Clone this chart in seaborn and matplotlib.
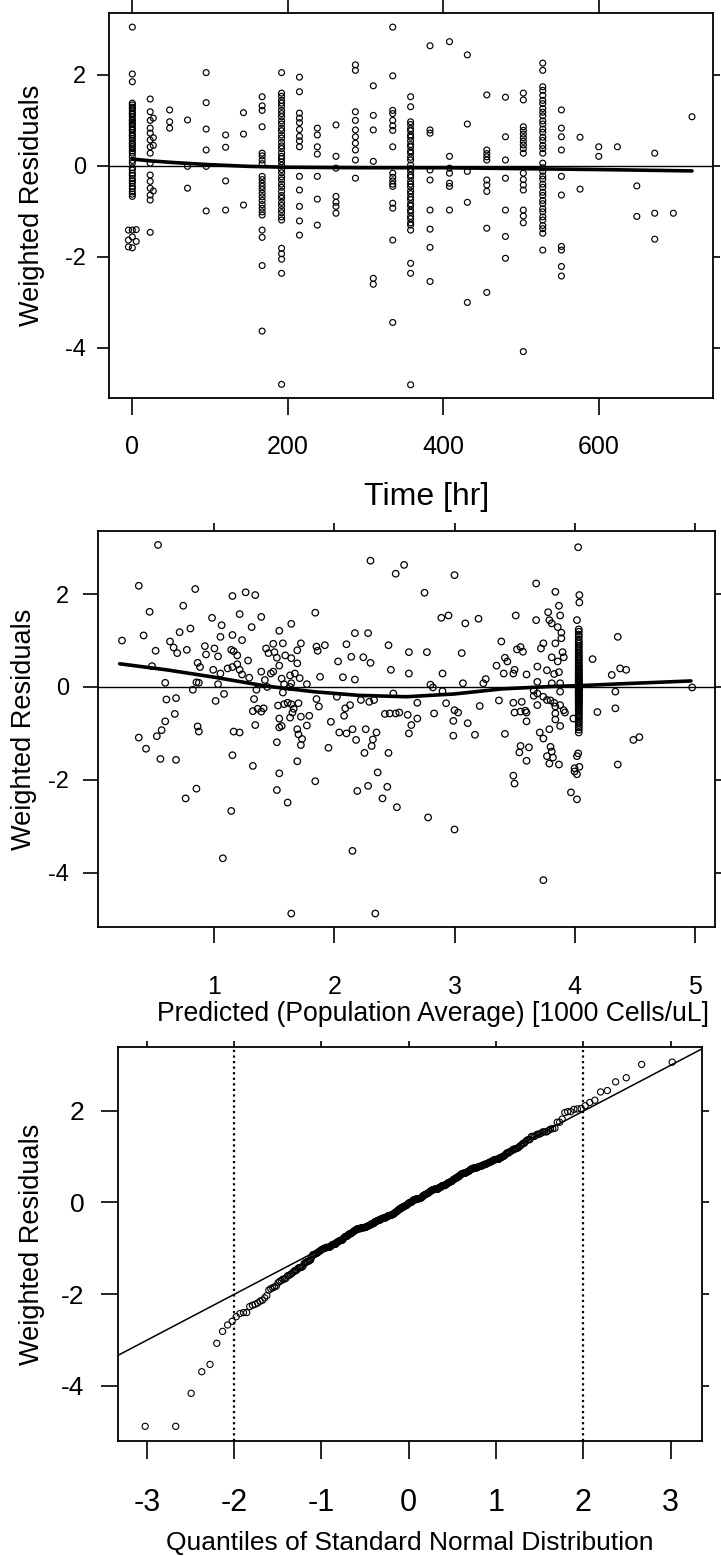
import matplotlib
matplotlib.use("Agg")
import matplotlib.pyplot as plt
import seaborn as sns
import pandas as pd
import numpy as np
from statistics import NormalDist

# ---------------- Panel 1: weighted residuals vs time ----------------
time_cols = [0, -5, 5, 23, 27, 48, 71, 95, 120, 143, 167, 192, 215, 238, 262,
             287, 310, 335, 358, 383, 408, 431, 456, 480, 503, 528, 552, 576,
             600, 624, 649, 672, 696, 720]
wres_cols = [
    [3.05, 2.02, 1.85, 1.38, 1.34, 1.29, 1.26, 1.21, 1.16, 1.13, 1.08, 1.02, 0.99, 0.94,
     0.91, 0.86, 0.81, 0.78, 0.73, 0.68, 0.65, 0.60, 0.56, 0.50, 0.47, 0.42, 0.38, 0.33,
     0.28, 0.21, 0.12, 0.06, -0.04, -0.09, -0.16, -0.21, -0.28, -0.33, -0.38, -0.45,
     -0.50, -0.57, -0.62, -0.67, -1.41, -1.56, -1.80],
    [-1.41, -1.63, -1.78],
    [-1.40, -1.66],
    [1.47, 1.19, 1.00, 0.83, 0.72, 0.57, 0.42, 0.28, 0.06, -0.20, -0.34, -0.49, -0.64, -0.75, -1.46],
    [1.05, 0.62, 0.45, -0.55],
    [1.23, 0.97, 0.83],
    [1.01, -0.01, -0.49],
    [2.05, 1.39, 0.81, 0.35, -0.01, -0.99],
    [0.68, 0.41, -0.33, -0.97],
    [1.17, 0.70, -0.86],
    [1.52, 1.32, 1.22, 0.86, 0.28, 0.22, 0.13, 0.05, -0.23, -0.30, -0.38, -0.45, -0.52,
     -0.60, -0.68, -0.76, -0.85, -0.93, -1.01, -1.08, -1.41, -1.57, -2.19, -3.63],
    [2.05, 1.60, 1.53, 1.44, 1.38, 1.31, 1.22, 1.15, 1.08, 0.99, 0.92, 0.83, 0.77, 0.68,
     0.61, 0.52, 0.44, 0.38, 0.29, 0.21, 0.16, 0.09, 0.01, -0.08, -0.15, -0.24, -0.31,
     -0.40, -0.47, -0.56, -0.65, -0.71, -0.80, -0.87, -0.96, -1.03, -1.12, -1.19, -1.81,
     -1.93, -2.05, -2.36, -4.80],
    [1.95, 1.63, 1.16, 1.05, 0.95, 0.80, 0.65, 0.55, 0.42, -0.23, -0.53, -0.89, -1.21, -1.52],
    [0.83, 0.68, 0.42, 0.26, -0.23, -0.73, -1.30],
    [0.90, 0.21, -0.05, -0.67, -0.80, -0.89, -1.04],
    [2.22, 2.10, 1.19, 1.00, 0.79, 0.64, 0.50, 0.35, 0.13, -0.27],
    [1.76, 1.11, 0.79, 0.10, -2.47, -2.60],
    [3.05, 1.98, 1.22, 1.15, 1.00, 0.88, 0.78, 0.42, -0.16, -0.25, -0.33, -0.40, -0.45,
     -0.82, -0.93, -1.63, -3.44],
    [1.52, 1.30, 0.97, 0.91, 0.82, 0.77, 0.68, 0.63, 0.55, 0.47, 0.42, 0.33, 0.28, 0.19,
     0.13, 0.02, -0.06, -0.12, -0.20, -0.25, -0.34, -0.40, -0.46, -0.55, -0.61, -0.69,
     -0.74, -0.83, -0.88, -0.97, -1.02, -1.11, -1.16, -1.25, -1.30, -1.41, -2.14, -2.36, -4.81],
    [2.64, 0.79, 0.72, -0.09, -0.31, -0.97, -1.39, -1.79, -2.54],
    [2.73, 0.21, -0.05, -0.16, -0.38, -0.45, -0.97],
    [2.44, 0.92, -0.12, -0.80, -3.00],
    [1.56, 0.35, 0.27, 0.20, 0.13, -0.31, -0.42, -0.56, -1.37, -2.78],
    [1.51, 0.64, 0.13, -0.27, -0.97, -1.55, -2.03],
    [1.60, 1.45, 0.86, 0.78, 0.70, 0.62, 0.54, 0.46, 0.38, 0.28, -0.16, -0.30, -0.42,
     -0.53, -0.97, -1.10, -1.25, -4.08],
    [2.26, 2.10, 1.74, 1.66, 1.55, 1.44, 1.37, 1.26, 1.18, 1.10, 0.99, 0.92, 0.81, 0.74,
     0.63, 0.56, 0.45, 0.38, 0.28, 0.06, -0.04, -0.12, -0.22, -0.29, -0.40, -0.47, -0.58,
     -0.65, -0.76, -0.83, -0.94, -1.01, -1.12, -1.19, -1.31, -1.38, -1.48, -1.85],
    [1.23, 0.83, 0.64, 0.35, -0.23, -0.64, -1.77, -1.85, -2.21, -2.42],
    [0.63, -0.51],
    [0.42, 0.21],
    [0.42],
    [-0.44, -1.11],
    [0.28, -1.04, -1.61],
    [-1.04],
    [1.08],
]
smooth_time_x = [0, 24, 48, 96, 150, 200, 300, 400, 500, 600, 720]
smooth_time_y = [0.15, 0.11, 0.08, 0.03, -0.01, -0.03, -0.04, -0.04, -0.06, -0.08, -0.11]

# ---------------- Panel 2: weighted residuals vs population prediction ----------------
pred_pop = [
    0.53, 0.37, 0.46, 0.84, 0.74, 1.15, 1.26, 1.34, 0.98, 1.06,
    1.21, 1.31, 1.39, 1.64, 1.54, 1.84, 2.30, 2.51, 2.58, 2.17,
    2.28, 0.23, 0.41, 0.51, 0.63, 0.66, 0.69, 0.71, 0.80, 0.77,
    0.92, 0.93, 1.00, 1.03, 1.05, 1.15, 1.14, 1.16, 1.19, 1.23,
    1.28, 0.86, 0.88, 0.99, 1.05, 1.11, 1.15, 1.19, 1.21, 1.23,
    1.29, 0.48, 0.59, 0.85, 0.87, 1.03, 1.39, 1.43, 1.49, 1.45,
    1.50, 1.52, 1.57, 1.59, 1.64, 1.69, 1.72, 1.69, 1.54, 1.47,
    1.49, 1.42, 1.56, 1.63, 1.67, 1.71, 1.64, 1.77, 1.85, 1.86,
    1.92, 1.88, 2.07, 2.10, 2.14, 2.17, 2.24, 2.30, 2.03, 2.45,
    2.47, 2.62, 2.62, 0.60, 0.68, 0.82, 1.01, 1.08, 0.67, 0.59,
    0.56, 0.52, 0.37, 0.43, 0.55, 0.68, 0.86, 0.87, 1.16, 1.21,
    1.15, 1.32, 1.14, 0.76, 0.85, 1.07, 1.64, 2.34, 1.33, 1.32,
    1.36, 1.41, 1.34, 1.39, 1.35, 1.53, 1.57, 1.58, 1.61, 1.64,
    1.70, 1.65, 1.63, 1.54, 1.56, 1.54, 1.66, 1.72, 1.69, 1.70,
    1.73, 1.72, 1.79, 1.77, 1.52, 1.54, 1.52, 1.61, 1.69, 1.84,
    1.95, 1.97, 1.85, 1.87, 2.02, 2.04, 2.09, 2.08, 2.10, 2.13,
    2.15, 2.18, 2.22, 2.26, 2.29, 2.33, 2.32, 2.31, 2.35, 2.25,
    2.36, 2.28, 2.19, 2.44, 2.40, 2.52, 2.45, 2.15, 2.42, 2.46,
    2.51, 2.49, 2.61, 2.62, 1.44, 1.63, 1.58, 2.75, 3.00, 2.89,
    2.95, 3.09, 3.20, 2.77, 3.06, 2.90, 2.80, 2.82, 2.90, 3.07,
    3.24, 3.26, 2.69, 2.54, 2.69, 2.64, 2.83, 2.93, 3.00, 3.03,
    2.99, 2.99, 3.11, 3.17, 3.21, 3.42, 3.37, 2.78, 3.00, 3.74,
    3.39, 3.35, 3.42, 3.44, 3.41, 3.49, 3.50, 3.51, 3.52, 3.55,
    3.57, 3.60, 3.68, 3.68, 3.69, 3.72, 3.74, 3.78, 3.79, 3.81,
    3.84, 3.87, 3.88, 3.86, 3.89, 3.89, 3.84, 3.90, 3.91, 3.86,
    3.81, 3.77, 3.87, 3.83, 3.69, 3.81, 3.88, 3.66, 3.69, 3.66,
    3.74, 3.77, 3.80, 3.83, 3.88, 3.88, 3.84, 3.91, 3.92, 3.84,
    3.84, 3.88, 3.79, 3.71, 3.74, 3.69, 3.59, 3.60, 3.55, 3.50,
    3.49, 3.56, 3.60, 3.62, 3.55, 3.54, 3.60, 3.80, 3.81, 3.82,
    3.77, 3.79, 3.87, 3.49, 3.50, 3.97, 4.02, 4.03, 4.04, 4.04,
    4.02, 4.15, 4.36, 4.31, 4.38, 4.43, 4.34, 4.19, 4.34, 4.49,
    4.54, 4.36, 4.98, 3.99, 4.00, 4.00, 4.02, 4.02, 4.03, 4.04,
]
wres_pop = [
    3.06, 2.18, 1.62, 2.11, 1.75, 1.96, 2.04, 1.98, 1.49, 1.33,
    1.57, 1.29, 1.51, 1.36, 1.21, 1.60, 2.72, 2.44, 2.63, 1.16,
    1.16, 1.00, 1.11, 0.78, 0.98, 0.85, 0.73, 1.18, 1.26, 0.80,
    0.88, 0.70, 0.83, 0.66, 1.08, 1.12, 0.80, 0.77, 0.68, 1.01,
    0.57, 0.52, 0.43, 0.37, 0.29, 0.40, 0.43, 0.49, 0.37, 0.27,
    0.20, 0.45, 0.09, 0.10, 0.09, 0.06, 0.33, 0.83, 0.93, 0.73,
    0.75, 0.63, 0.94, 0.68, 0.62, 0.79, 0.94, 0.51, 0.46, 0.29,
    0.33, 0.15, 0.18, 0.25, 0.29, 0.19, 0.08, 0.06, 0.87, 0.78,
    0.90, 0.22, 0.21, 0.92, 0.65, 0.16, 0.64, 0.52, 0.55, 0.90,
    0.37, 0.75, 0.29, -0.27, -0.24, -0.06, -0.30, -0.15, -0.58, -0.74,
    -0.93, -1.06, -1.09, -1.33, -1.55, -1.57, -0.85, -0.96, -0.96, -0.98,
    -1.47, -1.70, -2.67, -2.40, -2.19, -3.69, -4.88, -4.88, -0.26, -0.52,
    -0.47, -0.46, -0.82, -0.53, -0.06, -0.40, -0.12, -0.37, -0.34, -0.37,
    -0.35, -0.55, -0.66, -0.68, -0.84, -0.87, -0.47, -0.64, -0.91, -1.02,
    -1.12, -1.25, -0.62, -0.83, -1.19, -1.86, -2.22, -2.49, -1.60, -2.03,
    -1.31, -0.75, -0.26, -0.42, -0.21, -0.98, -0.46, -0.62, -1.00, -0.39,
    -0.91, -1.14, -0.28, -0.91, -0.32, -0.28, -1.13, -1.27, -0.98, -1.42,
    -1.84, -2.13, -2.24, -2.15, -2.40, -2.59, -1.42, -3.53, -0.58, -0.57,
    -0.57, -0.14, -0.60, -1.00, 0.00, 0.00, 0.06, 2.03, 2.41, 1.49,
    1.54, 1.37, 1.47, 0.75, 0.73, 0.29, 0.05, -0.01, -0.09, 0.08,
    0.08, 0.17, -0.34, -0.55, -0.68, -0.82, -0.57, -0.35, -0.50, -0.55,
    -0.73, -1.05, -0.78, -1.03, -0.41, -1.01, -0.29, -2.81, -3.07, -4.16,
    0.98, 0.46, 0.63, 0.55, 0.29, 0.29, 0.37, 1.54, 0.81, 0.86,
    0.76, 0.27, 2.23, 1.44, 0.44, 0.83, 0.94, 1.61, 1.44, 1.37,
    2.05, 1.75, 1.54, 1.29, 1.17, 1.05, 0.94, 0.75, 0.64, 0.55,
    0.64, 0.36, 0.32, 0.28, 0.11, 0.08, 0.08, -0.08, -0.14, -0.19,
    -0.21, -0.28, -0.29, -0.34, -0.10, -0.39, -0.42, -0.50, -0.55, -0.57,
    -0.70, -0.84, -0.91, -0.98, -1.11, -0.39, -0.51, -0.74, -0.53, -0.55,
    -0.34, -0.32, -0.55, -1.30, -1.27, -1.41, -1.59, -1.29, -1.39, -1.52,
    -1.49, -1.65, -1.67, -1.91, -2.08, -2.27, -2.42, 3.01, 1.98, 1.82,
    1.44, 0.60, 1.08, 0.26, 0.40, 0.37, -0.10, -0.54, -0.46, -1.14,
    -1.08, -1.67, -0.01, -0.68, -1.82, -1.75, -1.88, -1.49, -1.43, -1.72,
]
# dense column of baseline observations (all share the same population prediction)
base_pred = 4.035
base_wres = [1.24, 1.19, 1.13, 1.08, 1.02, 0.97, 0.93, 0.88, 0.84, 0.79, 0.75, 0.71,
             0.67, 0.64, 0.60, 0.57, 0.53, 0.50, 0.47, 0.44, 0.41, 0.38, 0.35, 0.33,
             0.30, 0.28, 0.25, 0.23, 0.20, 0.18, 0.16, 0.14, 0.12, 0.10, 0.08, 0.06,
             0.04, 0.03, 0.01, 0.00, -0.02, -0.03, -0.05, -0.07, -0.08, -0.10, -0.12,
             -0.14, -0.16, -0.18, -0.20, -0.22, -0.24, -0.27, -0.29, -0.31, -0.34,
             -0.36, -0.39, -0.42, -0.45, -0.48, -0.51, -0.54, -0.58, -0.61, -0.65,
             -0.69, -0.73, -0.77, -0.82, -0.87, -0.92, -0.98]
smooth_pred_x = [0.21, 0.60, 1.00, 1.43, 1.82, 2.20, 2.60, 3.00, 3.40, 3.80, 4.05, 4.40, 4.97]
smooth_pred_y = [0.50, 0.37, 0.21, 0.02, -0.10, -0.18, -0.21, -0.15, -0.04, 0.01, 0.03, 0.07, 0.13]

# ---------------- figure ----------------
sns.set_theme(style="ticks")
plt.rcParams["font.family"] = ["Liberation Sans", "DejaVu Sans"]
plt.rcParams["axes.unicode_minus"] = False
plt.rcParams["axes.linewidth"] = 1.3
plt.rcParams["axes.edgecolor"] = "black"
plt.rcParams["xtick.color"] = "black"
plt.rcParams["ytick.color"] = "black"
plt.rcParams["text.color"] = "black"
plt.rcParams["axes.labelcolor"] = "black"

W, H = 721, 1556
fig = plt.figure(figsize=(W / 100, H / 100), dpi=100)
fig.patch.set_facecolor("white")


def add_ax(l, t, r, b):
    return fig.add_axes([l / W, 1 - b / H, (r - l) / W, (b - t) / H])


def style(ax, xticks, yticks, xlim, ylim, lb, lt, ll, lr, xfs, yfs, xpad, ypad):
    ax.set_xlim(*xlim)
    ax.set_ylim(*ylim)
    ax.set_xticks(xticks)
    ax.set_yticks(yticks)
    ax.set_xticklabels([str(v) for v in xticks])
    ax.set_yticklabels([str(v) for v in yticks])
    ax.tick_params(direction="out", top=True, right=True, labeltop=False,
                   labelright=False, width=1.2, color="black")
    ax.tick_params(axis="x", length=lb, pad=xpad, labelsize=xfs)
    ax.tick_params(axis="y", length=ll, pad=ypad, labelsize=yfs)
    for tk in ax.xaxis.get_major_ticks():
        tk.tick2line.set_markersize(lt)
    for tk in ax.yaxis.get_major_ticks():
        tk.tick2line.set_markersize(lr)
    ax.grid(False)
    ax.set_facecolor("white")
    for s in ax.spines.values():
        s.set_visible(True)
        s.set_color("black")
        s.set_linewidth(1.3)


def set_labels(ax, box, xlabel, xfs, xcx, xcy, ylabel, yfs, ycx, ycy):
    l, t, r, b = box
    ax.set_xlabel(xlabel, fontsize=xfs, va="center", ha="center")
    ax.xaxis.set_label_coords((xcx - l) / (r - l), (b - xcy) / (b - t))
    ax.set_ylabel(ylabel, fontsize=yfs, va="center", ha="center")
    ax.yaxis.set_label_coords((ycx - l) / (r - l), (b - ycy) / (b - t))


ring = dict(marker="o", color="black", facecolors="none", edgecolor="black",
            legend=False)

# ----- Panel 1 -----
box1 = (109, 13, 713, 398)
ax1 = add_ax(*box1)
t_all, r_all = [], []
for tt, vals in zip(time_cols, wres_cols):
    t_all += [tt] * len(vals)
    r_all += vals
df1 = pd.DataFrame({"time": t_all, "wres": r_all})
ax1.axhline(0, color="black", lw=1.0, zorder=1)
sns.scatterplot(data=df1, x="time", y="wres", ax=ax1, s=18, linewidth=0.85, **ring)
sns.lineplot(x=smooth_time_x, y=smooth_time_y, ax=ax1, color="black", lw=2.6,
             estimator=None, sort=False)
style(ax1, [0, 200, 400, 600], [-4, -2, 0, 2], (-30, 747), (-5.1, 3.36),
      12, 9.5, 8.5, 5, 18, 17, 15, 8)
set_labels(ax1, box1, "Time [hr]", 23, 427, 497, "Weighted Residuals", 19.5, 32, 205)

# ----- Panel 2 -----
box2 = (98, 531, 715, 927)
ax2 = add_ax(*box2)
px = list(pred_pop) + [base_pred] * len(base_wres)
py = list(wres_pop) + list(base_wres)
df2 = pd.DataFrame({"pred": px, "wres": py})
ax2.axhline(0, color="black", lw=1.0, zorder=1)
sns.scatterplot(data=df2, x="pred", y="wres", ax=ax2, s=22, linewidth=0.9, **ring)
sns.lineplot(x=smooth_pred_x, y=smooth_pred_y, ax=ax2, color="black", lw=2.6,
             estimator=None, sort=False)
style(ax2, [1, 2, 3, 4, 5], [-4, -2, 0, 2], (0.03, 5.17), (-5.17, 3.36),
      11.5, 6, 11, 4.5, 18, 17, 23, 10)
set_labels(ax2, box2, "Predicted (Population Average) [1000 Cells/uL]", 19.2, 433, 1014,
           "Weighted Residuals", 19.5, 24, 729)

# ----- Panel 3: normal QQ plot of the same residuals -----
box3 = (118, 1047, 702, 1441)
ax3 = add_ax(*box3)
sorted_res = np.sort(np.array(py))
n = len(sorted_res)
nd = NormalDist()
theo = [nd.inv_cdf((i + 0.5) / n) for i in range(n)]
df3 = pd.DataFrame({"theo": theo, "wres": sorted_res})
q1, q3 = np.percentile(sorted_res, [25, 75])
z1, z3 = nd.inv_cdf(0.25), nd.inv_cdf(0.75)
slope = (q3 - q1) / (z3 - z1)
intercept = q1 - slope * z1
xl3 = (-3.33, 3.36)
ax3.axvline(-2, color="black", lw=1.6, ls=(0, (1, 1.5)), zorder=1)
ax3.axvline(2, color="black", lw=1.6, ls=(0, (1, 1.5)), zorder=1)
sns.lineplot(x=list(xl3), y=[intercept + slope * xl3[0], intercept + slope * xl3[1]],
             ax=ax3, color="black", lw=1.1, estimator=None, sort=False)
sns.scatterplot(data=df3, x="theo", y="wres", ax=ax3, s=20, linewidth=0.8, **ring)
style(ax3, [-3, -2, -1, 0, 1, 2, 3], [-4, -2, 0, 2], xl3, (-5.2, 3.39),
      13, 4.5, 12, 5, 22, 19, 21, 12)
set_labels(ax3, box3, "Quantiles of Standard Normal Distribution", 19, 410, 1543,
           "Weighted Residuals", 19.5, 32, 1244)

fig.savefig("out.png", dpi=100, facecolor="white")
